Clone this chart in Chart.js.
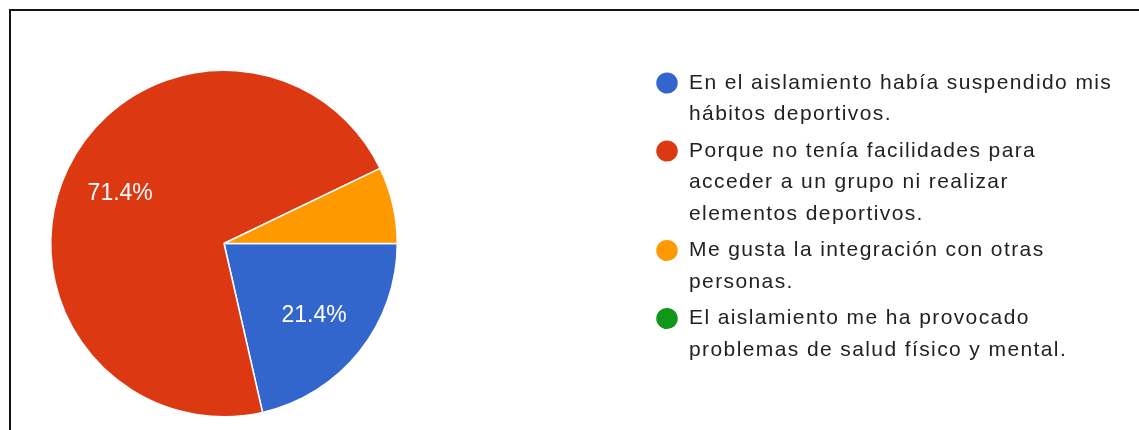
<!DOCTYPE html>
<html lang="es">
<head>
<meta charset="utf-8">
<title>Motivos</title>
<script src="https://cdn.jsdelivr.net/npm/chart.js@4/dist/chart.umd.min.js"></script>
<style>
  html, body { margin: 0; padding: 0; background: #ffffff; }
  body { width: 1139px; height: 430px; position: relative; overflow: hidden; }
  #frame {
    position: absolute; left: 9px; top: 9px; width: 1140px; height: 430px;
    border-top: 2px solid #141414; border-left: 2px solid #141414;
  }
  #wrap { position: absolute; left: 0; top: 0; width: 1139px; height: 430px; }
</style>
</head>
<body>
<div id="frame"></div>
<div id="wrap"><canvas id="chart"></canvas></div>
<script>
// Answer options, each split into the lines shown in the legend
const categories = [
  ["En el aislamiento había suspendido mis", "hábitos deportivos."],
  ["Porque no tenía facilidades para", "acceder a un grupo ni realizar", "elementos deportivos."],
  ["Me gusta la integración con otras", "personas."],
  ["El aislamiento me ha provocado", "problemas de salud físico y mental."]
];
// Number of responses per option
const responses = [3, 10, 1, 0];
const sliceColors = ["#3366cc", "#dc3912", "#ff9900", "#109618"];

const FONT = "'Liberation Sans', Arial, sans-serif";
const LEGEND_SPACING = '1.4px';

// Wider tracking for the legend text (measured and drawn with it)
const tracking = {
  id: 'tracking',
  beforeUpdate(chart) { chart.ctx.letterSpacing = LEGEND_SPACING; },
  beforeDraw(chart) { chart.ctx.letterSpacing = LEGEND_SPACING; }
};

// Percentage text inside the larger slices
const sliceLabels = {
  id: 'sliceLabels',
  afterDatasetsDraw(chart) {
    const ctx = chart.ctx;
    const meta = chart.getDatasetMeta(0);
    const values = chart.data.datasets[0].data;
    const total = values.reduce((a, b) => a + b, 0);
    ctx.save();
    ctx.letterSpacing = '0px';
    ctx.font = "23px " + FONT;
    ctx.fillStyle = "#ffffff";
    ctx.textAlign = "center";
    ctx.textBaseline = "middle";
    meta.data.forEach((arc, i) => {
      const share = values[i] / total;
      if (share < 0.1) return;
      const p = arc.getProps(['x', 'y', 'startAngle', 'endAngle', 'outerRadius'], true);
      const mid = (p.startAngle + p.endAngle) / 2;
      const r = p.outerRadius * 0.665;
      ctx.fillText((share * 100).toFixed(1) + "%", p.x + Math.cos(mid) * r, p.y + Math.sin(mid) * r);
    });
    ctx.restore();
  }
};

// Keep the pie in a square box on the left and set the legend a fixed gap to its right
const LEGEND_GAP = 252.5;
const LEGEND_TOP = 67.5;
const sideLegend = {
  id: 'sideLegend',
  afterLayout(chart) {
    const ca = chart.chartArea;
    const side = ca.bottom - ca.top;
    ca.right = ca.left + side;
    ca.width = side;
    const lg = chart.legend;
    const w = lg.width, h = lg.height;
    lg.left = ca.right + LEGEND_GAP;
    lg.right = lg.left + w;
    lg.top = LEGEND_TOP;
    lg.bottom = lg.top + h;
  }
};

new Chart(document.getElementById('chart'), {
  type: 'pie',
  data: {
    labels: categories,
    datasets: [{
      data: responses,
      backgroundColor: sliceColors,
      borderColor: '#ffffff',
      borderWidth: 1.5
    }]
  },
  options: {
    responsive: true,
    maintainAspectRatio: false,
    animation: false,
    rotation: 90,
    layout: { padding: { left: 50, top: 69.5, bottom: 12.5, right: 0 } },
    plugins: {
      tooltip: { enabled: false },
      legend: {
        position: 'right',
        align: 'start',
        labels: {
          usePointStyle: true,
          pointStyle: 'circle',
          boxHeight: 16,
          pointStyleWidth: 23,
          padding: 5,
          color: '#222222',
          font: { family: FONT, size: 21, lineHeight: 1.5 }
        }
      }
    }
  },
  plugins: [tracking, sliceLabels, sideLegend]
});
</script>
</body>
</html>
